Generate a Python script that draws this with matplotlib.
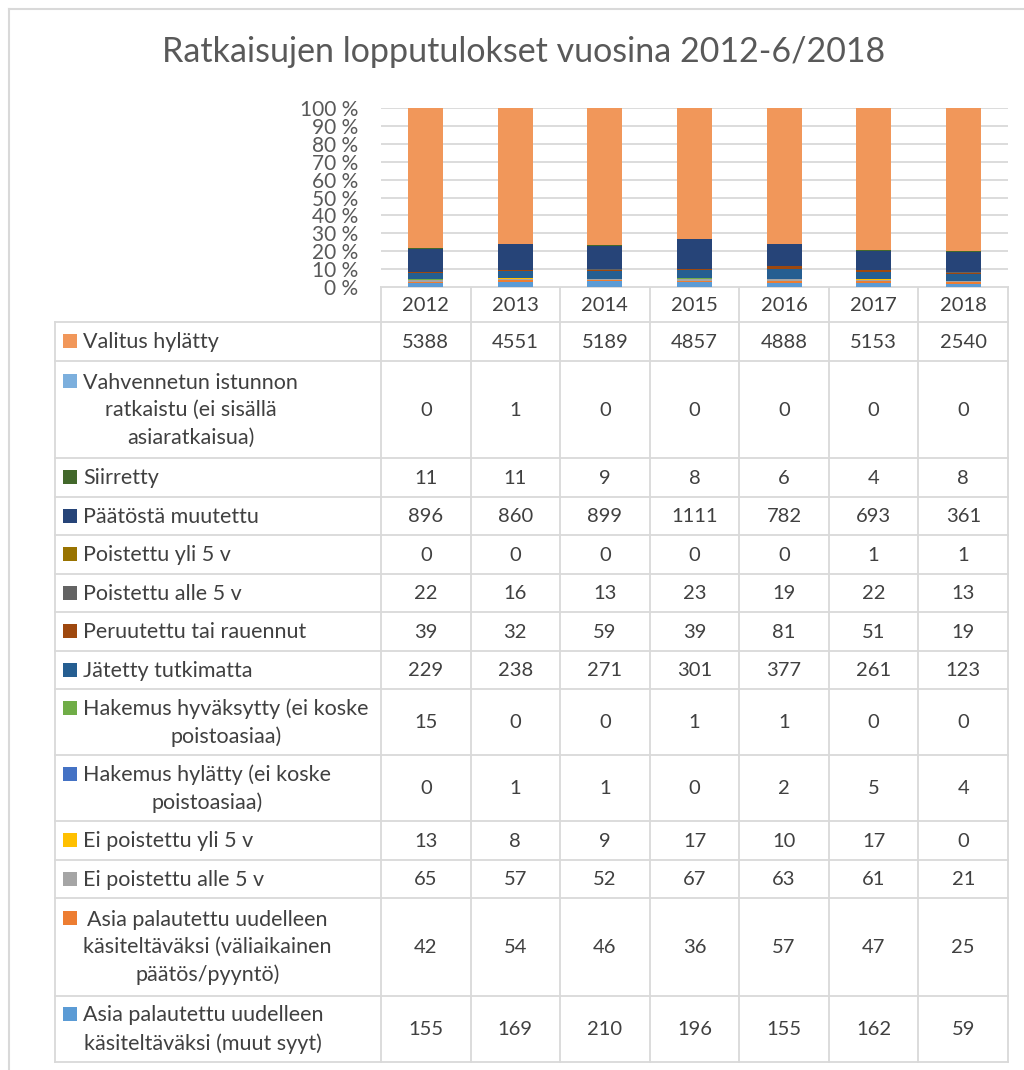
import numpy as np
import matplotlib
matplotlib.use("Agg")
import matplotlib.pyplot as plt

plt.rcParams['font.family'] = ['Lato', 'DejaVu Sans']

title = "Ratkaisujen lopputulokset vuosina 2012-6/2018"
years = ["2012", "2013", "2014", "2015", "2016", "2017", "2018"]

# table rows, top to bottom (top row = top of the stack)
labels = [
    "Valitus hylätty",
    "Vahvennetun istunnon\nratkaistu (ei sisällä\nasiaratkaisua)",
    "Siirretty",
    "Päätöstä muutettu",
    "Poistettu yli 5 v",
    "Poistettu alle 5 v",
    "Peruutettu tai rauennut",
    "Jätetty tutkimatta",
    "Hakemus hyväksytty (ei koske\npoistoasiaa)",
    "Hakemus hylätty (ei koske\npoistoasiaa)",
    "Ei poistettu yli 5 v",
    "Ei poistettu alle 5 v",
    "Asia palautettu uudelleen\nkäsiteltäväksi (väliaikainen\npäätös/pyyntö)",
    "Asia palautettu uudelleen\nkäsiteltäväksi (muut syyt)",
]

valitus_hylatty = [5388, 4551, 5189, 4857, 4888, 5153, 2540]
vahvennetun = [0, 1, 0, 0, 0, 0, 0]
siirretty = [11, 11, 9, 8, 6, 4, 8]
paatosta_muutettu = [896, 860, 899, 1111, 782, 693, 361]
poistettu_yli = [0, 0, 0, 0, 0, 1, 1]
poistettu_alle = [22, 16, 13, 23, 19, 22, 13]
peruutettu = [39, 32, 59, 39, 81, 51, 19]
jatetty = [229, 238, 271, 301, 377, 261, 123]
hakemus_hyvaksytty = [15, 0, 0, 1, 1, 0, 0]
hakemus_hylatty = [0, 1, 1, 0, 2, 5, 4]
ei_yli = [13, 8, 9, 17, 10, 17, 0]
ei_alle = [65, 57, 52, 67, 63, 61, 21]
palautettu_valiaik = [42, 54, 46, 36, 57, 47, 25]
palautettu_muut = [155, 169, 210, 196, 155, 162, 59]

series = [valitus_hylatty, vahvennetun, siirretty, paatosta_muutettu,
          poistettu_yli, poistettu_alle, peruutettu, jatetty,
          hakemus_hyvaksytty, hakemus_hylatty, ei_yli, ei_alle,
          palautettu_valiaik, palautettu_muut]

colors = ["#F1975A", "#7CAFDD", "#43682B", "#264478", "#997300", "#636363",
          "#9E480E", "#255E91", "#70AD47", "#4472C4", "#FFC000", "#A5A5A5",
          "#ED7D31", "#5B9BD5"]

W, H = 1024, 1070
fig = plt.figure(figsize=(W / 100, H / 100), dpi=100)

# pixel layout
x0, x1 = 381, 1008
ytop, ybot = 108, 287
lab_left = 55
fs_lab = 15.5
fs_num = 14.5

ax = fig.add_axes([x0 / W, 1 - ybot / H, (x1 - x0) / W, (ybot - ytop) / H])
data = np.array(series, dtype=float)
frac = data / data.sum(axis=0)
xs = np.arange(len(years))
bottom = np.zeros(len(years))
for k in range(len(series) - 1, -1, -1):
    ax.bar(xs, frac[k], bottom=bottom, width=0.39, color=colors[k], zorder=3)
    bottom += frac[k]
ax.set_xlim(-0.5, len(years) - 0.5)
ax.set_ylim(0, 1)
ticks = np.arange(0, 11) / 10
ax.set_yticks(ticks)
ax.set_yticklabels([f"{int(round(t * 100))} %" for t in ticks],
                   fontsize=15, color="#595959")
ax.tick_params(axis='y', length=0, pad=16.5)
ax.set_xticks([])
ax.grid(axis='y', color="#D9D9D9", linewidth=1.3, zorder=0)
for s in ax.spines.values():
    s.set_visible(False)

# overlay in pixel coordinates for table and frame
ov = fig.add_axes([0, 0, 1, 1], zorder=-1)
ov.set_xlim(0, W)
ov.set_ylim(H, 0)
ov.axis('off')
lc = "#D9D9D9"

ov.plot([9, 9], [9, H], color=lc, lw=1.5)
ov.plot([9, W], [9, 9], color=lc, lw=1.5)

fig.text(524 / W, 1 - 52 / H, title, ha='center', va='center',
         fontsize=24.5, color="#595959")

colw = (x1 - x0) / len(years)
hdr_bot = 322
nlines = [lab.count("\n") + 1 for lab in labels]
row_h = {1: 38.5, 2: 66.0, 3: 97.5}
lw = 1.3

# header
ov.plot([x0, x1], [ybot, ybot], color=lc, lw=lw)
for i, yr in enumerate(years):
    ov.text(x0 + (i + 0.5) * colw, (ybot + hdr_bot) / 2 + 1, yr, ha='center',
            va='center', fontsize=fs_num, color="#404040")

y = hdr_bot
tops = [y]
for k, lab in enumerate(labels):
    h = row_h[nlines[k]]
    yc = y + h / 2
    line_h = 28.5
    first_y = yc - (nlines[k] - 1) * line_h / 2
    ov.add_patch(plt.Rectangle((63, first_y - 7), 14, 14, color=colors[k],
                               lw=0))
    ov.text(83, yc + 1, lab, ha='left', va='center', multialignment='center',
            fontsize=fs_lab, color="#404040", linespacing=1.45)
    for i in range(len(years)):
        ov.text(x0 + (i + 0.5) * colw, yc + 1, str(series[k][i]), ha='center',
                va='center', fontsize=fs_num, color="#404040")
    y += h
    tops.append(y)

for t in tops:
    ov.plot([lab_left, x1], [t, t], color=lc, lw=lw)
ov.plot([lab_left, lab_left], [hdr_bot, tops[-1]], color=lc, lw=lw)
for i in range(len(years) + 1):
    xx = x0 + i * colw
    ov.plot([xx, xx], [ybot, tops[-1]], color=lc, lw=lw)

fig.savefig("out.png", dpi=100, facecolor="white")
